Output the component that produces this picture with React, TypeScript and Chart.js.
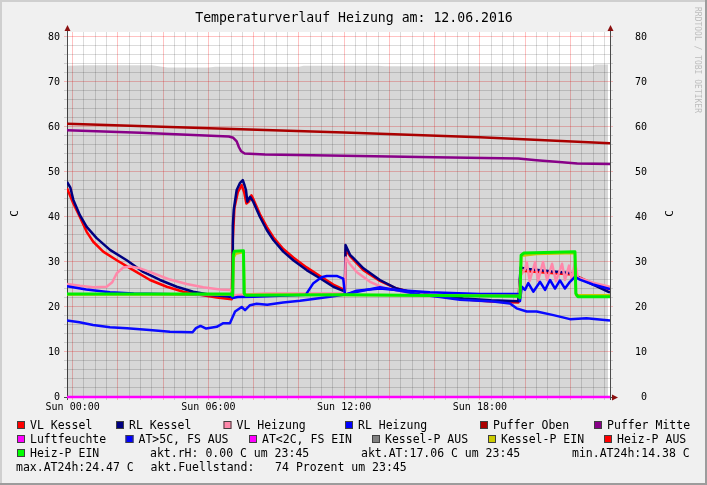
import React, { useEffect, useRef } from 'react';
import { Chart, registerables } from 'chart.js';
Chart.register(...registerables);

// ---------- axis setup ----------
const X_MIN = -0.25; // 23:45 previous day (hours)
const X_MAX = 23.75; // 23:45
const Y_MIN = 0;
const Y_MAX = 81.11;
const xLabelHours = [0, 6, 12, 18];
const xLabelTexts = ['Sun 00:00', 'Sun 06:00', 'Sun 12:00', 'Sun 18:00'];
const yLabelValues = [0, 10, 20, 30, 40, 50, 60, 70, 80];

const TITLE = 'Temperaturverlauf Heizung am: 12.06.2016';
const AXIS_TITLE = 'C';
const WATERMARK = 'RRDTOOL / TOBI OETIKER';

// ---------- data: [hour, value] ----------
const fuellstand = [[-0.25, 73.6], [0.5, 73.7], [3.5, 73.7], [4.2, 73.2], [6.0, 73.2], [6.3, 73.4], [10.0, 73.4], [10.2, 73.6], [13.5, 73.6], [13.8, 73.5], [23.0, 73.5], [23.1, 73.9], [23.66, 73.9]];

const vlKessel = [[-0.25, 46.4], [0.03, 43.0], [0.32, 40.0], [0.62, 36.7], [0.91, 34.5], [1.35, 32.3], [1.95, 30.4], [2.68, 28.2], [3.42, 26.0], [4.16, 24.5], [4.89, 23.4], [5.63, 22.7], [6.37, 22.1], [7.03, 21.7], [7.08, 35.0], [7.15, 42.0], [7.3, 45.5], [7.47, 47.1], [7.58, 45.5], [7.68, 43.0], [7.8, 43.5], [7.9, 44.8], [8.0, 43.8], [8.28, 40.6], [8.58, 37.8], [8.87, 35.5], [9.31, 32.9], [9.75, 31.0], [10.34, 28.8], [10.93, 26.9], [11.52, 25.0], [11.96, 23.9], [12.03, 23.5], [12.07, 32.7], [12.26, 31.3], [12.85, 28.2], [13.58, 25.8], [14.32, 24.1], [15.06, 23.2], [15.79, 22.6], [17.27, 21.7], [18.5, 21.2], [19.7, 21.0], [19.8, 28.0], [20.0, 28.0], [21.0, 27.6], [22.1, 27.2], [22.3, 26.7], [22.42, 26.5], [23.0, 25.2], [23.75, 23.9]];

const rlKessel = [[-0.25, 47.8], [-0.1, 46.5], [0.03, 43.8], [0.32, 40.4], [0.62, 37.8], [1.06, 35.3], [1.65, 32.7], [2.39, 30.4], [3.12, 27.8], [3.86, 26.0], [4.6, 24.5], [5.33, 23.4], [6.07, 22.7], [6.95, 22.3], [7.05, 22.3], [7.08, 38.0], [7.12, 41.6], [7.25, 46.0], [7.4, 47.6], [7.52, 48.2], [7.6, 47.0], [7.66, 46.0], [7.72, 43.4], [7.84, 44.5], [7.98, 43.4], [8.28, 40.0], [8.58, 37.1], [8.87, 34.9], [9.31, 32.3], [9.75, 30.4], [10.34, 28.2], [10.93, 26.4], [11.52, 24.5], [11.96, 23.6], [12.03, 23.3], [12.06, 33.8], [12.26, 31.6], [12.4, 30.9], [12.85, 28.6], [13.58, 26.0], [14.32, 24.1], [15.06, 23.2], [15.79, 22.7], [17.27, 21.9], [18.5, 21.5], [19.7, 21.3], [19.8, 28.8], [20.0, 28.5], [21.0, 28.0], [22.1, 27.5], [22.3, 26.8], [22.42, 26.4], [23.0, 25.0], [23.75, 23.2]];

const vlHeizung = [[-0.25, 25.1], [0.32, 24.7], [0.91, 24.4], [1.5, 24.5], [1.75, 25.5], [1.95, 27.5], [2.24, 28.8], [2.53, 29.0], [2.98, 28.6], [3.56, 27.5], [4.3, 26.1], [5.04, 25.1], [5.77, 24.4], [6.51, 23.9], [6.95, 23.8], [7.05, 23.7], [7.1, 22.6], [7.6, 22.8], [8.5, 23.0], [11.9, 23.0], [12.03, 23.0], [12.07, 31.0], [12.26, 29.5], [12.55, 27.8], [13.14, 25.6], [13.73, 24.3], [14.61, 23.4], [15.5, 22.8], [19.7, 22.6], [19.8, 27.0], [20.0, 28.5], [20.07, 30.0], [20.2, 25.8], [20.44, 30.0], [20.57, 25.8], [20.79, 30.0], [20.97, 26.0], [21.19, 29.6], [21.36, 25.7], [21.63, 29.6], [21.76, 26.0], [21.94, 29.2], [22.07, 26.0], [22.2, 30.0], [22.33, 26.5], [22.42, 26.4], [23.0, 25.4], [23.75, 24.5]];

const rlHeizung = [[-0.25, 24.6], [0.6, 23.9], [1.65, 23.3], [2.7, 23.0], [3.9, 22.9], [5.3, 22.7], [6.95, 22.6], [7.07, 22.0], [7.3, 22.2], [8.0, 22.3], [10.3, 22.7], [10.64, 25.3], [11.0, 26.6], [11.23, 26.9], [11.67, 26.9], [11.96, 26.3], [12.03, 23.0], [12.1, 22.8], [12.55, 23.6], [13.58, 24.1], [14.32, 23.8], [15.79, 23.3], [18.0, 22.9], [19.7, 22.9], [19.77, 21.3], [19.85, 24.5], [19.99, 23.8], [20.14, 25.3], [20.36, 23.4], [20.66, 25.6], [20.88, 23.8], [21.1, 26.0], [21.32, 24.1], [21.54, 25.9], [21.76, 24.1], [21.98, 25.6], [22.2, 26.7], [22.42, 26.1], [23.0, 25.0], [23.75, 24.0]];

const pufferOben = [[-0.25, 60.7], [5.0, 59.9], [12.0, 58.8], [18.0, 57.7], [23.75, 56.4]];

const pufferMitte = [[-0.25, 59.3], [3.0, 58.7], [6.9, 57.9], [7.1, 57.6], [7.25, 56.8], [7.35, 55.5], [7.45, 54.6], [7.6, 54.1], [8.5, 53.9], [12.0, 53.6], [16.0, 53.3], [19.7, 53.0], [20.5, 52.6], [21.5, 52.2], [22.3, 51.9], [23.75, 51.8]];

const luftfeuchte = [[-0.25, 0], [23.75, 0]];

const aussenTemp = [[-0.25, 17.0], [0.3, 16.6], [0.9, 16.0], [1.65, 15.5], [2.4, 15.3], [3.4, 14.9], [4.3, 14.5], [5.3, 14.4], [5.45, 15.3], [5.65, 15.8], [5.9, 15.2], [6.37, 15.6], [6.66, 16.4], [6.95, 16.4], [7.18, 19.0], [7.47, 20.0], [7.62, 19.3], [7.84, 20.4], [8.13, 20.7], [8.6, 20.5], [9.3, 21.0], [10.05, 21.4], [10.64, 21.8], [11.37, 22.3], [12.04, 22.8], [12.7, 23.5], [13.58, 24.4], [14.47, 23.6], [15.35, 22.8], [16.24, 22.2], [17.12, 21.6], [18.58, 21.2], [19.33, 20.8], [19.62, 19.7], [20.07, 19.0], [20.51, 19.0], [21.25, 18.2], [21.98, 17.3], [22.71, 17.5], [23.75, 17.0]];

const kesselPEin = [[-0.25, 22.8], [7.08, 22.8], [7.12, 31.0], [7.2, 31.8], [7.55, 32.2], [7.6, 22.8], [19.78, 22.5], [19.83, 31.4], [20.5, 31.8], [22.2, 32.0], [22.25, 22.6], [23.75, 22.6]];

const heizPEin = [[-0.25, 22.9], [7.0, 22.9], [7.07, 22.5], [7.1, 31.5], [7.15, 32.4], [7.55, 32.5], [7.58, 23.0], [7.65, 22.6], [12.0, 22.7], [19.7, 22.4], [19.77, 22.0], [19.82, 31.5], [19.95, 32.0], [22.2, 32.3], [22.24, 23.0], [22.33, 22.3], [23.75, 22.3]];

// ---------- legend ----------
const legendRows = [
  [['VL Kessel', '#ff0000', 17], ['RL Kessel', '#000080', 116], ['VL Heizung', '#ff88aa', 223.5], ['RL Heizung', '#0000ff', 345], ['Puffer Oben', '#aa0000', 480], ['Puffer Mitte', '#880088', 594]],
  [['Luftfeuchte', '#ff00ff', 17], ['AT>5C, FS AUS', '#0000ff', 125.5], ['AT<2C, FS EIN', '#ff00ff', 249], ['Kessel-P AUS', '#808080', 372], ['Kessel-P EIN', '#cccc00', 488], ['Heiz-P AUS', '#ff0000', 604]],
  [['Heiz-P EIN', '#00ff00', 17]],
];
const legendTexts = [
  ['akt.rH: 0.00 C um 23:45', 150, 2],
  ['akt.AT:17.06 C um 23:45', 361, 2],
  ['min.AT24h:14.38 C', 572, 2],
  ['max.AT24h:24.47 C', 16, 3],
  ['akt.Fuellstand:   74 Prozent um 23:45', 150.5, 3],
];
const legendBaselines = [429, 443, 457, 471];

const MONO = '"DejaVu Sans Mono", monospace';

const toXY = (arr: number[][]) => arr.map((p) => ({ x: p[0], y: p[1] }));

const RED_GRID = 'rgba(255,0,0,0.24)';
const MINOR_GRID = 'rgba(0,0,0,0.14)';

const decorPlugin = {
  id: 'decor',
  beforeDraw(chart: any) {
    const { ctx, chartArea: a, width, height } = chart;
    ctx.save();
    ctx.fillStyle = '#f0f0f0';
    ctx.fillRect(0, 0, width, height);
    ctx.fillStyle = '#cfcfcf';
    ctx.fillRect(0, 0, width, 2);
    ctx.fillRect(0, 0, 2, height);
    ctx.fillStyle = '#9c9c9c';
    ctx.fillRect(0, height - 2, width, 2);
    ctx.fillRect(width - 2, 0, 2, height);
    ctx.fillStyle = '#ffffff';
    ctx.fillRect(a.left, a.top, a.right - a.left, a.bottom - a.top);
    ctx.restore();
  },
  beforeDatasetsDraw(chart: any) {
    const { ctx, chartArea: a } = chart;
    ctx.save();
    ctx.strokeStyle = '#4a4a4a';
    ctx.lineWidth = 1;
    ctx.beginPath();
    ctx.moveTo(a.left + 0.5, a.top - 1);
    ctx.lineTo(a.left + 0.5, a.bottom + 3);
    ctx.moveTo(a.right + 0.5, a.top - 1);
    ctx.lineTo(a.right + 0.5, a.bottom + 3);
    ctx.moveTo(a.left - 3, a.bottom + 0.5);
    ctx.lineTo(a.right + 3, a.bottom + 0.5);
    ctx.stroke();
    ctx.fillStyle = '#8b1010';
    const up = (x: number) => {
      ctx.beginPath();
      ctx.moveTo(x, a.top - 7);
      ctx.lineTo(x - 3, a.top - 1);
      ctx.lineTo(x + 3, a.top - 1);
      ctx.closePath();
      ctx.fill();
    };
    up(a.left + 0.5);
    up(a.right + 0.5);
    ctx.beginPath();
    ctx.moveTo(a.right + 8, a.bottom + 0.5);
    ctx.lineTo(a.right + 2, a.bottom - 2.5);
    ctx.lineTo(a.right + 2, a.bottom + 3.5);
    ctx.closePath();
    ctx.fill();
    ctx.restore();
  },
  afterDraw(chart: any) {
    const { ctx, chartArea: a } = chart;
    ctx.save();
    ctx.fillStyle = '#000';
    ctx.font = `13.2px ${MONO}`;
    ctx.textAlign = 'center';
    ctx.textBaseline = 'alphabetic';
    ctx.fillText(TITLE, 354, 21.5);

    // axis titles
    ctx.font = `11px ${MONO}`;
    ctx.textBaseline = 'middle';
    [15.5, 670.5].forEach((x) => {
      ctx.save();
      ctx.translate(x, (a.top + a.bottom) / 2 - 1);
      ctx.rotate(-Math.PI / 2);
      ctx.fillText(AXIS_TITLE, 0, 0);
      ctx.restore();
    });

    // watermark
    ctx.save();
    ctx.translate(697.5, 7);
    ctx.rotate(Math.PI / 2);
    ctx.font = `8px ${MONO}`;
    ctx.fillStyle = '#bdbdbd';
    ctx.textAlign = 'left';
    ctx.textBaseline = 'middle';
    ctx.fillText(WATERMARK, 0, 0);
    ctx.restore();

    // legend
    ctx.font = `11.5px ${MONO}`;
    ctx.textAlign = 'left';
    ctx.textBaseline = 'alphabetic';
    legendRows.forEach((row, r) => {
      const base = legendBaselines[r];
      row.forEach((item: any) => {
        const [label, color, bx] = item;
        ctx.fillStyle = color;
        ctx.fillRect(bx, base - 8, 8, 8);
        ctx.strokeStyle = '#404040';
        ctx.lineWidth = 1;
        ctx.strokeRect(bx + 0.5, base - 7.5, 7, 7);
        ctx.fillStyle = '#000';
        ctx.fillText(label, bx + 13, base);
      });
    });
    legendTexts.forEach((t: any) => {
      ctx.fillStyle = '#000';
      ctx.fillText(t[0], t[1], legendBaselines[t[2]]);
    });
    ctx.restore();
  },
};

function lineDs(label: string, data: number[][], color: string, order: number, width = 2.5, extra: any = {}) {
  return {
    label,
    data: toXY(data),
    borderColor: color,
    backgroundColor: color,
    borderWidth: width,
    pointRadius: 0,
    tension: 0,
    fill: false,
    order,
    borderJoinStyle: 'round',
    ...extra,
  };
}

export default function App() {
  const ref = useRef<HTMLCanvasElement | null>(null);
  useEffect(() => {
    if (!ref.current) return;
    const xGrid: number[] = [];
    for (let h = 0; h <= 23.5; h += 0.5) xGrid.push(h);
    const yGrid: number[] = [];
    for (let v = 0; v <= 80; v += 2) yGrid.push(v);

    const xGridColor = (c: any) => (c.tick && c.tick.value % 2 === 0 ? RED_GRID : MINOR_GRID);
    const yGridColor = (c: any) => (c.tick && c.tick.value % 10 === 0 ? RED_GRID : MINOR_GRID);

    const chart = new Chart(ref.current, {
      type: 'line',
      data: {
        datasets: [
          lineDs('Heiz-P EIN', heizPEin, '#00ee00', 1, 3),
          lineDs('Kessel-P EIN', kesselPEin, '#c8c800', 2, 2.5),
          lineDs('AT', aussenTemp, '#0a0aff', 3),
          lineDs('Luftfeuchte', luftfeuchte, '#ff00ff', 4, 2.5, { clip: false }),
          lineDs('Puffer Mitte', pufferMitte, '#880088', 5),
          lineDs('Puffer Oben', pufferOben, '#aa0000', 6),
          lineDs('RL Heizung', rlHeizung, '#0000ff', 7),
          lineDs('VL Heizung', vlHeizung, '#ff88aa', 8),
          lineDs('RL Kessel', rlKessel, '#000080', 9),
          lineDs('VL Kessel', vlKessel, '#ff0000', 10),
          {
            label: 'Fuellstand',
            data: toXY(fuellstand),
            borderWidth: 0,
            borderColor: 'rgba(0,0,0,0)',
            backgroundColor: 'rgba(0,0,0,0.155)',
            fill: 'origin',
            pointRadius: 0,
            tension: 0,
            order: 20,
          },
        ] as any,
      },
      options: {
        responsive: false,
        animation: false,
        devicePixelRatio: 1,
        events: [],
        layout: { padding: { top: 32, left: 0, right: 0, bottom: 0 } },
        plugins: { legend: { display: false }, title: { display: false }, tooltip: { enabled: false } },
        scales: {
          x: {
            type: 'linear',
            min: X_MIN,
            max: X_MAX,
            afterBuildTicks: (s: any) => {
              s.ticks = xGrid.map((v) => ({ value: v }));
            },
            afterFit: (s: any) => {
              s.height = 88;
            },
            grid: { color: xGridColor, lineWidth: 1, drawTicks: true, tickLength: 3 },
            border: { display: false },
            ticks: {
              autoSkip: false,
              maxRotation: 0,
              minRotation: 0,
              padding: 1,
              color: '#000',
              font: { family: MONO, size: 10 },
              callback: (v: any) => {
                const i = xLabelHours.indexOf(Number(v));
                return i >= 0 ? xLabelTexts[i] : '';
              },
            },
          },
          y: {
            type: 'linear',
            position: 'left',
            min: Y_MIN,
            max: Y_MAX,
            afterBuildTicks: (s: any) => {
              s.ticks = yGrid.map((v) => ({ value: v }));
            },
            afterFit: (s: any) => {
              s.width = 67;
            },
            grid: { color: yGridColor, lineWidth: 1, drawTicks: true, tickLength: 3 },
            border: { display: false },
            ticks: {
              autoSkip: false,
              padding: 4,
              color: '#000',
              font: { family: MONO, size: 10 },
              callback: (v: any) => (yLabelValues.indexOf(Number(v)) >= 0 ? String(v) : ''),
            },
          },
          y2: {
            type: 'linear',
            position: 'right',
            min: Y_MIN,
            max: Y_MAX,
            afterBuildTicks: (s: any) => {
              s.ticks = yGrid.map((v) => ({ value: v }));
            },
            afterFit: (s: any) => {
              s.width = 97;
            },
            grid: { color: yGridColor, lineWidth: 1, drawTicks: true, tickLength: 3, drawOnChartArea: false },
            border: { display: false },
            ticks: {
              autoSkip: false,
              padding: 22,
              color: '#000',
              font: { family: MONO, size: 10 },
              callback: (v: any) => (yLabelValues.indexOf(Number(v)) >= 0 ? String(v).padStart(2, ' ') : ''),
            },
          },
        },
      } as any,
      plugins: [decorPlugin],
    });
    return () => chart.destroy();
  }, []);

  return (
    <div style={{ position: 'absolute', left: 0, top: 0, width: 707, height: 485 }}>
      <canvas ref={ref} width={707} height={485} style={{ display: 'block', width: 707, height: 485 }} />
    </div>
  );
}
